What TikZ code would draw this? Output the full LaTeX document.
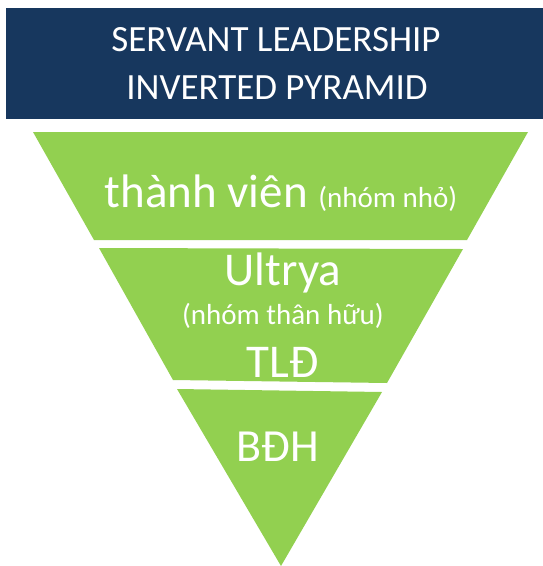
\documentclass[tikz,border=0pt]{standalone}
\usepackage{fontspec}
\setmainfont{Carlito}
\definecolor{navy}{HTML}{17375E}
\definecolor{leaf}{HTML}{92D050}
\begin{document}
\begin{tikzpicture}[x=1pt,y=-1pt,
  band/.style={fill=leaf,draw=none},
  lbl/.style={text=white,anchor=base,inner sep=0pt},
  ttl/.style={text=white,anchor=base,inner sep=0pt,font=\fontsize{37}{44}\selectfont}]
\useasboundingbox (0,0) rectangle (543,566);
\fill[navy] (6,8) rectangle (543,119);
\node[ttl] (t1) at (276,51) {SERVANT LEADERSHIP};
\node[ttl] (t2) at (277,99) {INVERTED PYRAMID};
\fill[band] (33,132) -- (528,132) -- (467,240) -- (94,240) -- cycle;
\fill[band] (99,248) -- (463,249) -- (387,383) -- (173,380) -- cycle;
\fill[band] (177,389) -- (382,392) -- (281,566) -- cycle;
\node[lbl] (a) at (281,207) {\fontsize{47}{56}\selectfont thành viên \fontsize{29}{34}\selectfont (nhóm nhỏ)};
\node[lbl] (b1) at (283,285) {\fontsize{47}{56}\selectfont Ultrya};
\node[lbl] (b2) at (283,324) {\fontsize{29}{34}\selectfont (nhóm thân hữu)};
\node[lbl] (b3) at (283,377) {\fontsize{47}{56}\selectfont TLĐ};
\node[lbl] (c) at (278,461) {\fontsize{46}{55}\selectfont BĐH};
\end{tikzpicture}
\end{document}
